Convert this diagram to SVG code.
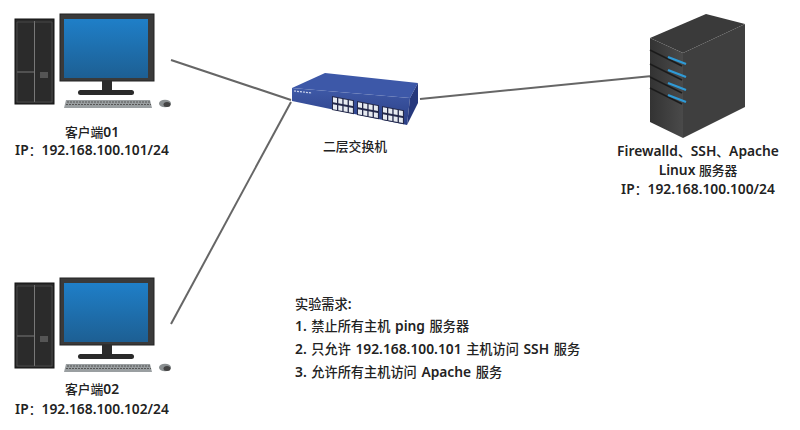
<svg xmlns="http://www.w3.org/2000/svg" width="800" height="430" viewBox="0 0 800 430">
<style>
text{font-family:"Noto Sans CJK SC","Noto Sans",sans-serif;font-size:12.800px;fill:#222;font-weight:500}
.l{font-family:"Noto Sans","Noto Sans CJK SC",sans-serif;font-size:13.800px;font-weight:600}
.m{text-anchor:middle}
.r{font-size:13.200px;word-spacing:1px}
.link{stroke:#666;stroke-width:2;fill:none}
.led{stroke:#2f9ad6;stroke-width:2.400}
.slot{stroke:#1c1c1c;stroke-width:1.600}
</style>
<defs>
<linearGradient id="scr" x1="0" y1="0" x2="0" y2="1"><stop offset="0" stop-color="#1f7fc8"/><stop offset="1" stop-color="#1d5f93"/></linearGradient>
<linearGradient id="sw" x1="0" y1="0" x2="0" y2="1"><stop offset="0" stop-color="#3f5aa8"/><stop offset="1" stop-color="#2b3f86"/></linearGradient>
<linearGradient id="srvL" x1="0" y1="0" x2="1" y2="0"><stop offset="0" stop-color="#333"/><stop offset="1" stop-color="#4a4a4a"/></linearGradient>
<g id="pc">
<rect x="15" y="19" width="39" height="85" fill="#2b2b2b" stroke="#111"/>
<path d="M34.500 21V102M17 72H34" stroke="#999" stroke-width=".7" fill="none"/>
<path d="M17 22H52V102H17Z" stroke="#5a5a5a" stroke-width=".6" fill="none"/>
<rect x="40" y="72" width="8" height="6" fill="#555"/>
<rect x="60" y="14" width="94" height="67" fill="#3a3a3a" stroke="#222"/>
<rect x="64" y="19" width="84" height="59" fill="url(#scr)"/>
<rect x="102" y="81" width="10" height="10" fill="#2c2c2c"/>
<rect x="78" y="90" width="56" height="5" rx="2.500" fill="#2a2a2a"/>
<path d="M66 100H150L152 108H64Z" fill="#9a9fa1"/>
<path d="M67 102H150M66 104.500H151" stroke="#555" stroke-width="1" stroke-dasharray="2 1"/>
<ellipse cx="165" cy="103.500" rx="6" ry="3.800" fill="#8a8f91"/>
<ellipse cx="167" cy="104.500" rx="3.500" ry="2.500" fill="#444"/>
</g>
<g id="ports">
<rect width="22" height="14" fill="#23284a"/>
<path d="M1 1h4v5h-4zM6.300 1h4v5h-4zM11.600 1h4v5h-4zM16.900 1h4v5h-4zM1 8h4v5h-4zM6.300 8h4v5h-4zM11.600 8h4v5h-4zM16.900 8h4v5h-4z" fill="#e6eaf0"/>
</g>
</defs>
<rect width="800" height="430" fill="#fff"/>
<g id="connectors">
<line class="link" x1="171" y1="60" x2="291" y2="100"/>
<line class="link" x1="171" y1="324" x2="291" y2="102"/>
<line class="link" x1="420" y1="99" x2="652" y2="76"/>
</g>
<g id="client01"><use href="#pc"/>
<text class="m" x="92" y="137">客户端<tspan class="l">01</tspan></text>
<text class="m" x="92" y="155"><tspan class="l">IP</tspan>：<tspan class="l">192.168.100.101/24</tspan></text></g>
<g id="client02"><use href="#pc" y="264"/>
<text class="m" x="92" y="394">客户端<tspan class="l">02</tspan></text>
<text class="m" x="92" y="414"><tspan class="l">IP</tspan>：<tspan class="l">192.168.100.102/24</tspan></text></g>
<g id="switch">
<path d="M292 88L325 73L418 83L410 98Z" fill="#3d58a8"/>
<path d="M292 88L410 98L407 125L292 101Z" fill="url(#sw)"/>
<path d="M410 98L418 83V103L407 125Z" fill="#26387c"/>
<use href="#ports" transform="translate(332 96) skewY(11)"/>
<use href="#ports" transform="translate(357 101) skewY(11)"/>
<use href="#ports" transform="translate(382 106) skewY(11)"/>
<path d="M294 91L312 93" stroke="#cdd6ee" stroke-width="1.200" stroke-dasharray="2 1"/>
<text class="m" x="355" y="151">二层交换机</text></g>
<g id="server">
<path d="M650 38L706 14L745 24L683 53Z" fill="#3a3a3a"/>
<path d="M650 38L683 53V138L650 122Z" fill="url(#srvL)"/>
<path d="M683 53L745 24V107L683 138Z" fill="#3f3f3f"/>
<g class="slot">
<line x1="650" y1="50" x2="682" y2="66"/><line x1="650" y1="64" x2="682" y2="80"/><line x1="650" y1="77" x2="682" y2="93"/><line x1="650" y1="88" x2="682" y2="104"/>
</g>
<g class="led">
<line x1="668" y1="57" x2="686" y2="64"/><line x1="668" y1="70" x2="686" y2="77"/><line x1="668" y1="83" x2="686" y2="90"/><line x1="668" y1="95" x2="686" y2="102"/>
</g>
<text class="m" x="698" y="156"><tspan class="l">Firewalld</tspan>、<tspan class="l">SSH</tspan>、<tspan class="l">Apache</tspan></text>
<text class="m" x="698" y="175"><tspan class="l">Linux </tspan>服务器</text>
<text class="m" x="698" y="194"><tspan class="l">IP</tspan>：<tspan class="l">192.168.100.100/24</tspan></text></g>
<g id="requirements">
<text class="r" x="295" y="309">实验需求<tspan class="l">:</tspan></text>
<text class="r" x="295" y="331"><tspan class="l">1. </tspan>禁止所有主机<tspan class="l"> ping </tspan>服务器</text>
<text class="r" x="295" y="354"><tspan class="l">2. </tspan>只允许<tspan class="l"> 192.168.100.101 </tspan>主机访问<tspan class="l"> SSH </tspan>服务</text>
<text class="r" x="295" y="377"><tspan class="l">3. </tspan>允许所有主机访问<tspan class="l"> Apache </tspan>服务</text>
</g>
</svg>
